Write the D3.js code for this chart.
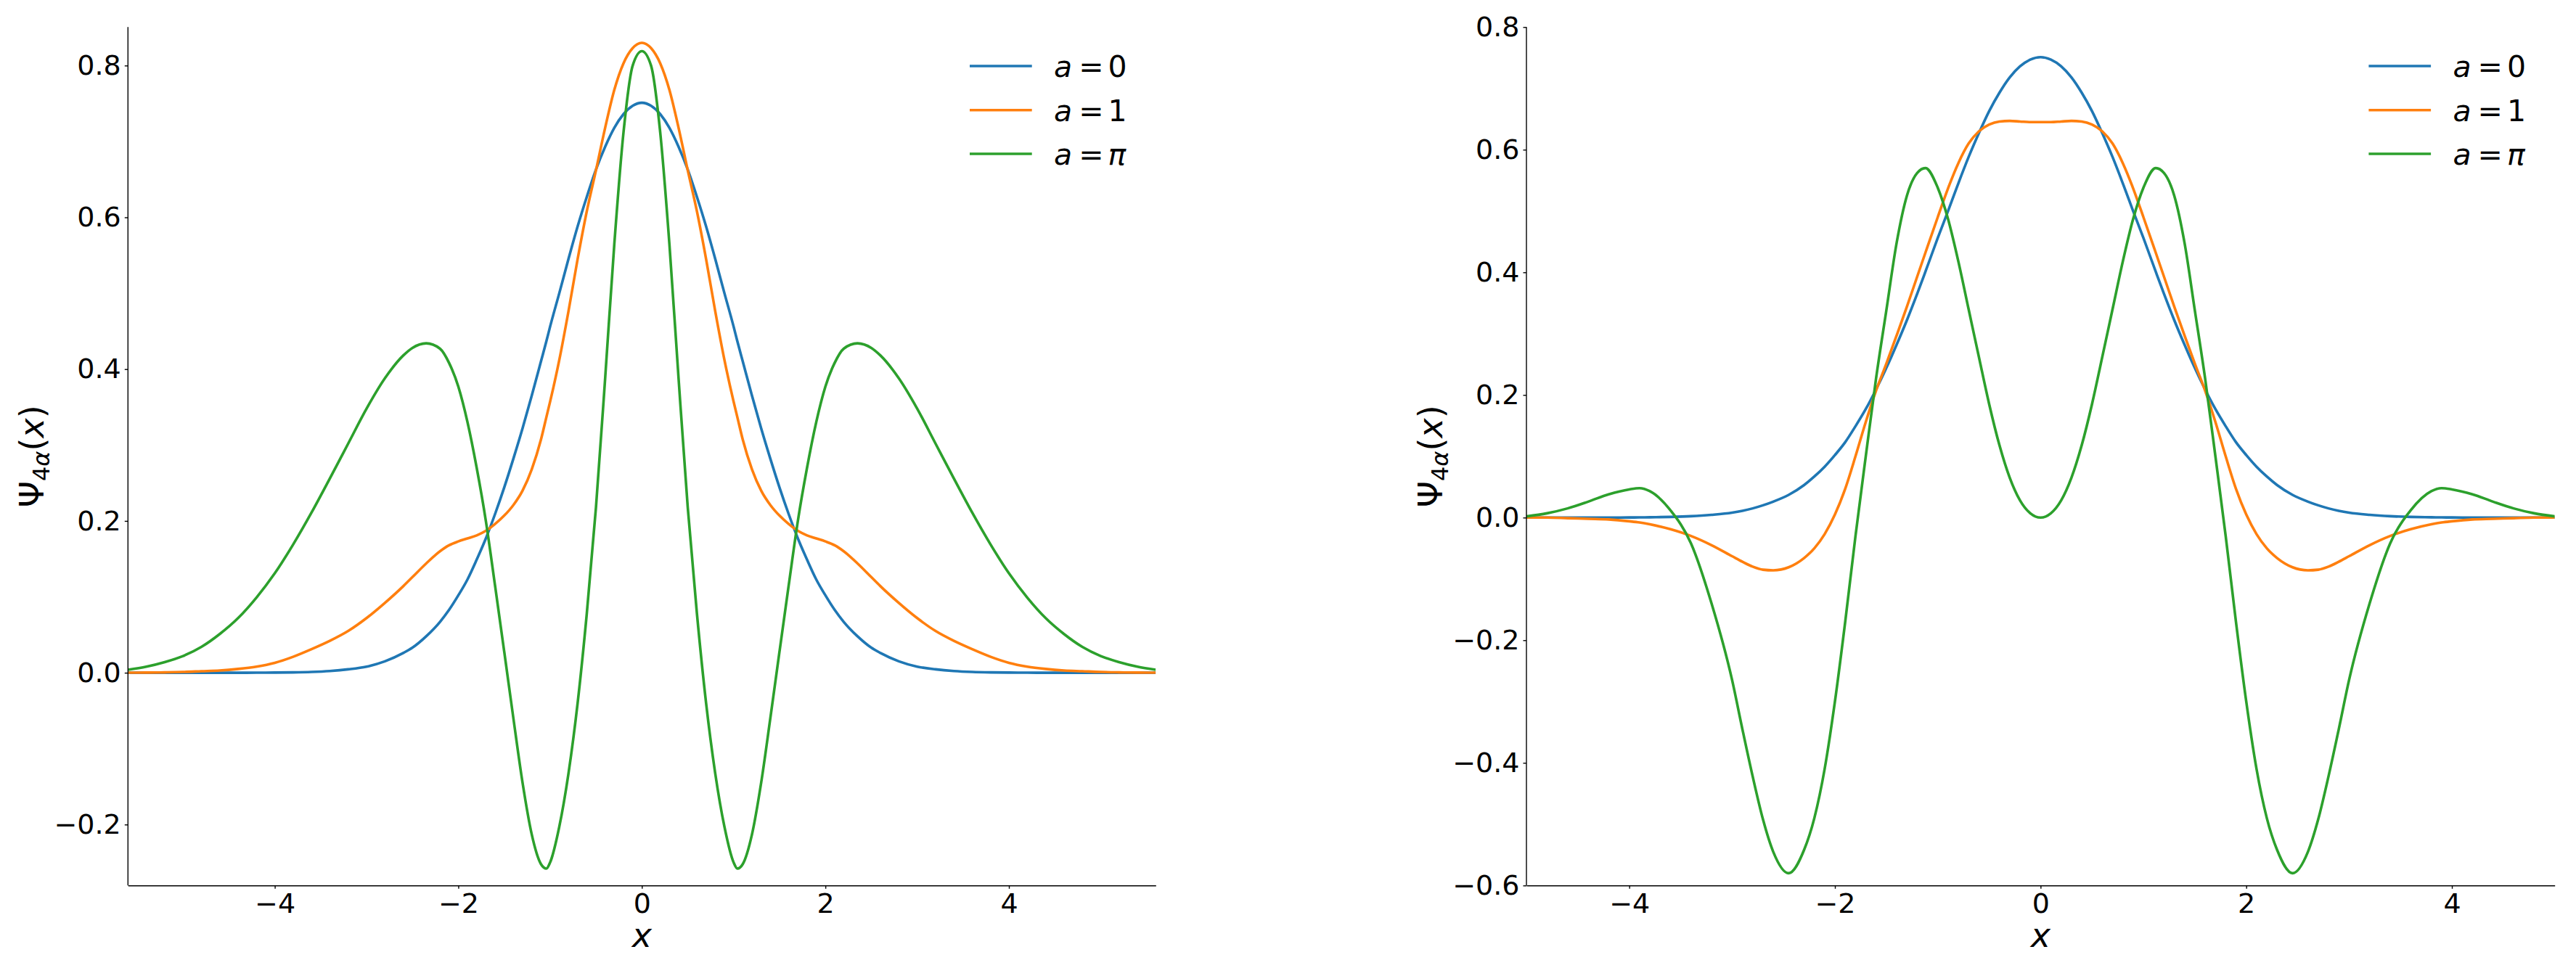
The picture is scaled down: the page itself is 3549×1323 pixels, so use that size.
<!DOCTYPE html>
<html>
<head>
<meta charset="utf-8">
<script src="https://cdn.jsdelivr.net/npm/d3@7"></script>
<style>
html, body { margin: 0; padding: 0; background: #ffffff; }
svg { display: block; }
text { font-family: "DejaVu Sans", sans-serif; fill: #000; }
</style>
</head>
<body>
<svg id="chart" width="3549" height="1323"></svg>
<script>
// ---------------- data ----------------
const xLeft = [-5.6,-5.4,-5.2,-5.0,-4.8,-4.6,-4.4,-4.2,-4.0,-3.8,-3.6,-3.4,-3.2,-3.0,-2.8,-2.6,-2.5,-2.35,-2.2,
  -2.1,-2.0,-1.9,-1.8,-1.7,-1.6,-1.5,-1.4,-1.3,-1.2,-1.1,-1.04,-1.0,-0.9,-0.8,-0.7,-0.6,-0.5,-0.4,-0.3,-0.2,-0.1,
  0,
  0.1,0.2,0.3,0.4,0.5,0.6,0.7,0.8,0.9,1.0,1.04,1.1,1.2,1.3,1.4,1.5,1.6,1.7,1.8,1.9,2.0,2.1,
  2.2,2.35,2.5,2.6,2.8,3.0,3.2,3.4,3.6,3.8,4.0,4.2,4.4,4.6,4.8,5.0,5.2,5.4,5.6];

const leftA0 = [0,0,0,0,0,0,0,0.0001,0.0002,0.0005,0.0011,0.0023,0.0045,0.008,0.015,0.026,0.033,0.048,0.067,
  0.083,0.102,0.123,0.149,0.177,0.209,0.244,0.282,0.322,0.365,0.410,0.437,0.456,0.500,0.545,0.588,0.627,0.663,0.693,0.718,0.736,0.747,
  0.751,
  0.747,0.736,0.718,0.693,0.663,0.627,0.588,0.545,0.500,0.456,0.437,0.410,0.365,0.322,0.282,0.244,0.209,0.177,0.149,0.123,0.102,0.083,
  0.067,0.048,0.033,0.026,0.015,0.008,0.0045,0.0023,0.0011,0.0005,0.0002,0.0001,0,0,0,0,0,0,0];

const leftA1 = [0.0001,0.0002,0.0005,0.001,0.002,0.003,0.005,0.008,0.013,0.021,0.031,0.042,0.055,0.072,0.092,0.114,0.126,0.144,0.160,
  0.168,0.173,0.177,0.181,0.187,0.196,0.207,0.221,0.240,0.268,0.307,0.337,0.357,0.412,0.476,0.545,0.608,0.662,0.718,0.768,0.803,0.823,
  0.830,
  0.823,0.803,0.768,0.718,0.662,0.608,0.545,0.476,0.412,0.357,0.337,0.307,0.268,0.240,0.221,0.207,0.196,0.187,0.181,0.177,0.173,0.168,
  0.160,0.144,0.126,0.114,0.092,0.072,0.055,0.042,0.031,0.021,0.013,0.008,0.005,0.003,0.002,0.001,0.0005,0.0002,0.0001];

const leftAPi = [0.004,0.008,0.014,0.022,0.034,0.051,0.072,0.099,0.131,0.169,0.211,0.256,0.302,0.348,0.388,0.418,0.428,0.434,0.427,
  0.408,0.377,0.330,0.270,0.200,0.115,0.028,-0.060,-0.145,-0.213,-0.252,-0.258,-0.250,-0.203,-0.133,-0.040,0.078,0.218,0.388,0.565,0.712,0.800,
  0.819,
  0.800,0.712,0.565,0.388,0.218,0.078,-0.040,-0.133,-0.203,-0.250,-0.258,-0.252,-0.213,-0.145,-0.060,0.028,0.115,0.200,0.270,0.330,0.377,0.408,
  0.427,0.434,0.428,0.418,0.388,0.348,0.302,0.256,0.211,0.169,0.131,0.099,0.072,0.051,0.034,0.022,0.014,0.008,0.004];

const xRight = [-5.0,-4.8,-4.6,-4.4,-4.2,-4.0,-3.9,-3.8,-3.6,-3.4,-3.2,
  -3.0,-2.9,-2.8,-2.7,-2.6,-2.45,-2.3,-2.2,-2.1,-2.0,-1.9,-1.8,-1.7,-1.6,-1.5,-1.4,-1.3,-1.2,-1.12,
  -1.0,-0.9,-0.8,-0.7,-0.6,-0.5,-0.4,-0.3,-0.2,-0.1,
  0,
  0.1,0.2,0.3,0.4,0.5,0.6,0.7,0.8,0.9,1.0,1.12,1.2,1.3,1.4,1.5,1.6,1.7,1.8,1.9,2.0,
  2.1,2.2,2.3,2.45,2.6,2.7,2.8,2.9,3.0,
  3.2,3.4,3.6,3.8,3.9,4.0,4.2,4.4,4.6,4.8,5.0];

const rightA0 = [0,0,0,0,0.0001,0.0002,0.0003,0.0005,0.0011,0.0023,0.0045,
  0.008,0.011,0.015,0.020,0.026,0.037,0.053,0.067,0.083,0.102,0.123,0.149,0.177,0.209,0.244,0.282,0.322,0.365,0.401,
  0.456,0.500,0.545,0.588,0.627,0.663,0.693,0.718,0.736,0.747,
  0.751,
  0.747,0.736,0.718,0.693,0.663,0.627,0.588,0.545,0.500,0.456,0.401,0.365,0.322,0.282,0.244,0.209,0.177,0.149,0.123,0.102,
  0.083,0.067,0.053,0.037,0.026,0.020,0.015,0.011,0.008,
  0.0045,0.0023,0.0011,0.0005,0.0003,0.0002,0.0001,0,0,0,0];

const rightA1 = [0,0,-0.001,-0.002,-0.003,-0.006,-0.008,-0.011,-0.019,-0.030,-0.045,
  -0.063,-0.072,-0.080,-0.085,-0.086,-0.081,-0.066,-0.050,-0.027,0.005,0.047,0.100,0.156,0.207,0.251,0.297,0.344,0.393,0.432,
  0.490,0.537,0.578,0.610,0.630,0.641,0.646,0.647,0.646,0.645,
  0.645,
  0.645,0.646,0.647,0.646,0.641,0.630,0.610,0.578,0.537,0.490,0.432,0.393,0.344,0.297,0.251,0.207,0.156,0.100,0.047,0.005,
  -0.027,-0.050,-0.066,-0.081,-0.086,-0.085,-0.080,-0.072,-0.063,
  -0.045,-0.030,-0.019,-0.011,-0.008,-0.006,-0.003,-0.002,-0.001,0,0];

const rightAPi = [0.002,0.007,0.015,0.026,0.038,0.046,0.048,0.043,0.012,-0.042,-0.140,
  -0.265,-0.345,-0.422,-0.492,-0.545,-0.580,-0.542,-0.490,-0.410,-0.300,-0.170,-0.030,0.100,0.227,0.338,0.448,0.525,0.562,0.570,
  0.538,0.487,0.418,0.340,0.262,0.185,0.118,0.065,0.028,0.007,
  0.000,
  0.007,0.028,0.065,0.118,0.185,0.262,0.340,0.418,0.487,0.538,0.570,0.562,0.525,0.448,0.338,0.227,0.100,-0.030,-0.170,-0.300,
  -0.410,-0.490,-0.542,-0.580,-0.545,-0.492,-0.422,-0.345,-0.265,
  -0.140,-0.042,0.012,0.043,0.048,0.046,0.038,0.026,0.015,0.007,0.002];

const seriesValues = ["0", "1", "π"];
const seriesColors = ["#1f77b4", "#ff7f0e", "#2ca02c"];
const xTickValues = [-4, -2, 0, 2, 4];
const leftYTickValues = [-0.2, 0.0, 0.2, 0.4, 0.6, 0.8];
const rightYTickValues = [-0.6, -0.4, -0.2, 0.0, 0.2, 0.4, 0.6, 0.8];
const leftXDomain = [-5.6, 5.6];
const leftYDomain = [-0.2803, 0.8507];
const rightXDomain = [-5, 5];
const rightYDomain = [-0.6, 0.8];

// ---------------- layout ----------------
const svg = d3.select("#chart");
svg.append("rect").attr("width", 3549).attr("height", 1323).attr("fill", "#fff");

const plotTop = 37.3, plotBottom = 1220.3;
const panels = [
  { id: "L", x: xLeft, ys: [leftA0, leftA1, leftAPi], xDomain: leftXDomain, yDomain: leftYDomain,
    yTicks: leftYTickValues, left: 176.3, right: 1592.3 },
  { id: "R", x: xRight, ys: [rightA0, rightA1, rightAPi], xDomain: rightXDomain, yDomain: rightYDomain,
    yTicks: rightYTickValues, left: 2103, right: 3519.7 }
];

const tickFont = 38, labelFont = 46, legendFont = 41;

panels.forEach(p => {
  const xs = d3.scaleLinear().domain(p.xDomain).range([p.left, p.right]);
  const ys = d3.scaleLinear().domain(p.yDomain).range([plotBottom, plotTop]);
  const g = svg.append("g");

  g.append("clipPath").attr("id", "clip" + p.id)
    .append("rect").attr("x", p.left).attr("y", plotTop - 4)
    .attr("width", p.right - p.left).attr("height", plotBottom - plotTop + 8);

  // lines
  const lines = g.append("g").attr("clip-path", `url(#clip${p.id})`);
  p.ys.forEach((vals, i) => {
    const pts = p.x.map((xv, k) => [xv, vals[k]]);
    const line = d3.line().x(d => xs(d[0])).y(d => ys(d[1])).curve(d3.curveMonotoneX);
    lines.append("path").attr("d", line(pts))
      .attr("fill", "none").attr("stroke", seriesColors[i])
      .attr("stroke-width", 3.6).attr("stroke-linejoin", "round").attr("stroke-linecap", "butt");
  });

  // axes
  const xAxis = d3.axisBottom(xs).tickValues(xTickValues).tickFormat(d3.format("d"))
    .tickSize(4.5).tickSizeOuter(0).tickPadding(6);
  const yAxis = d3.axisLeft(ys).tickValues(p.yTicks).tickFormat(d3.format(".1f"))
    .tickSize(4.5).tickSizeOuter(0).tickPadding(5);

  const gx = g.append("g").attr("transform", `translate(0,${plotBottom})`).call(xAxis);
  const gy = g.append("g").attr("transform", `translate(${p.left},0)`).call(yAxis);
  [gx, gy].forEach(a => {
    a.attr("font-family", null).attr("font-size", null);
    a.select(".domain").attr("stroke", "#000").attr("stroke-width", 1.4);
    a.selectAll(".tick line").attr("stroke", "#000").attr("stroke-width", 1.4);
    a.selectAll(".tick text").style("font-size", tickFont + "px").style("font-family", '"DejaVu Sans", sans-serif').attr("fill", "#000");
  });
  // left spine spans full plot height
  gy.select(".domain").attr("d", `M0,${plotTop}V${plotBottom}`);

  // x label
  g.append("text").attr("x", (p.left + p.right) / 2).attr("y", 1305)
    .attr("text-anchor", "middle").style("font-size", labelFont + "px").style("font-style", "italic")
    .text("x");

  // y label  Ψ_{4α}(x)
  const yl = g.append("text")
    .attr("transform", `translate(${p.left - 116},${(plotTop + plotBottom) / 2}) rotate(-90)`)
    .attr("text-anchor", "middle").style("font-size", labelFont + "px");
  yl.append("tspan").text("Ψ");
  yl.append("tspan").attr("dy", 8).style("font-size", "32px").text("4");
  yl.append("tspan").style("font-size", "32px").style("font-style", "italic").text("α");
  yl.append("tspan").attr("dy", -8).text("(");
  yl.append("tspan").style("font-style", "italic").text("x");
  yl.append("tspan").text(")");

  // legend
  const rowY = [plotTop + 53.7, plotTop + 114.4, plotTop + 174.7];
  seriesValues.forEach((v, i) => {
    g.append("line").attr("x1", p.right - 256.3).attr("x2", p.right - 170.6)
      .attr("y1", rowY[i]).attr("y2", rowY[i])
      .attr("stroke", seriesColors[i]).attr("stroke-width", 3.6);
    const t = g.append("text").attr("x", p.right - 140.3).attr("y", rowY[i] + 15)
      .style("font-size", legendFont + "px");
    t.append("tspan").style("font-style", "italic").text("a");
    t.append("tspan").attr("dx", 9).text("=");
    const vt = t.append("tspan").attr("dx", 6).text(v);
    if (v === "π") vt.style("font-style", "italic");
  });
});
</script>
</body>
</html>
